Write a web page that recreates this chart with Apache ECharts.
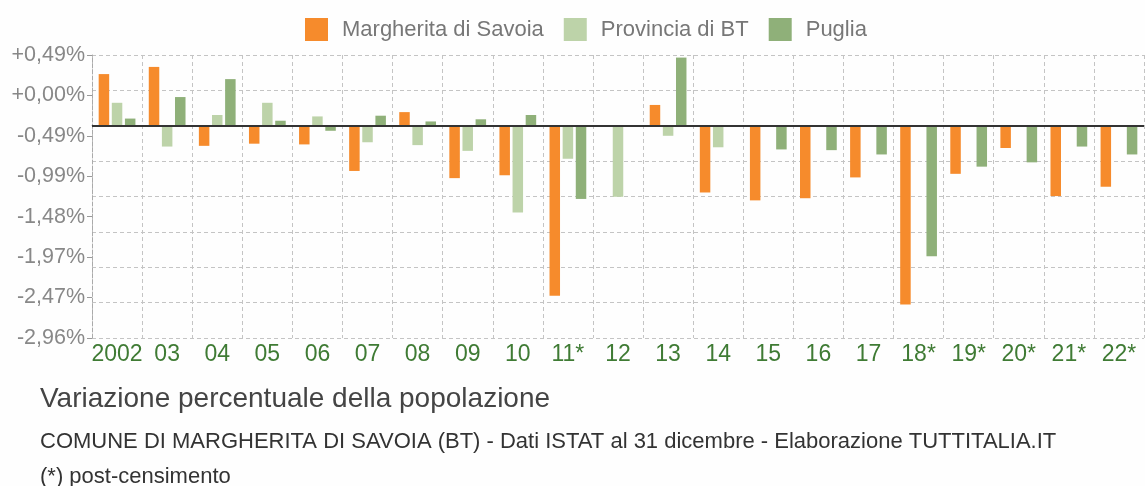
<!DOCTYPE html>
<html>
<head>
<meta charset="utf-8">
<script src="https://cdn.jsdelivr.net/npm/echarts@6/dist/echarts.min.js"></script>
<style>
html,body{margin:0;padding:0;background:#fefefe;}
#c{width:1145px;height:486px;}
</style>
</head>
<body>
<div id="c"></div>
<script>
const years = ['2002','03','04','05','06','07','08','09','10','11*','12','13','14','15','16','17','18*','19*','20*','21*','22*'];
const margherita = [0.72, 0.82, -0.28, -0.25, -0.26, -0.63, 0.19, -0.73, -0.69, -2.37, 0, 0.29, -0.93, -1.04, -1.01, -0.72, -2.49, -0.67, -0.31, -0.98, -0.85];
const provincia = [0.32, -0.29, 0.15, 0.32, 0.13, -0.23, -0.27, -0.35, -1.21, -0.46, -0.99, -0.14, -0.30, null, null, null, null, null, null, null, null];
const puglia = [0.10, 0.40, 0.65, 0.07, -0.07, 0.14, 0.06, 0.09, 0.15, -1.02, -0.01, 0.95, 0, -0.33, -0.34, -0.40, -1.82, -0.57, -0.51, -0.29, -0.40];
const yTickLabels = ['-2,96%','-2,47%','-1,97%','-1,48%','-0,99%','-0,49%','+0,00%','+0,49%'];
const seriesNames = ['Margherita di Savoia','Provincia di BT','Puglia'];
const colors = ['#f68b2c','#bdd3a9','#8fb079'];
const step = 0.493;

const FONT = "'Liberation Sans', Arial, sans-serif";
const chart = echarts.init(document.getElementById('c'), null, {renderer:'canvas'});
const barCommon = {type:'bar', barWidth:10.5, barGap:'25%', yAxisIndex:0, xAxisIndex:0};
chart.setOption({
  animation:false,
  backgroundColor:'#fefefe',
  color: colors,
  textStyle:{fontFamily:FONT},
  legend:{
    top:13, left:300, itemWidth:23, itemHeight:23, itemGap:20,
    icon:'rect',
    textStyle:{fontSize:22, color:'#777', fontFamily:FONT, padding:[0,0,0,9]},
    data: seriesNames
  },
  title:[
    {text:'Variazione percentuale della popolazione', left:35, top:380,
     textStyle:{fontSize:28, fontWeight:'normal', color:'#444', fontFamily:FONT}},
    {text:'COMUNE DI MARGHERITA DI SAVOIA (BT) - Dati ISTAT al 31 dicembre - Elaborazione TUTTITALIA.IT', left:35, top:426,
     textStyle:{fontSize:22, fontWeight:'normal', color:'#333', fontFamily:FONT}},
    {text:'(*) post-censimento', left:35, top:461,
     textStyle:{fontSize:22, fontWeight:'normal', color:'#333', fontFamily:FONT}}
  ],
  grid:{left:92, right:1, top:55, bottom:148, containLabel:false},
  xAxis:[{
    type:'category', data:years, boundaryGap:true,
    axisLine:{show:true, lineStyle:{color:'#aaa', type:'dashed', width:1}},
    axisTick:{show:false},
    axisLabel:{fontSize:23, color:'#3f7b34', margin:5, interval:0, fontFamily:FONT},
    splitLine:{show:true, interval:0, lineStyle:{color:'#c4c4c4', type:[4,3], width:1}}
  }],
  yAxis:[{
    type:'value', min:-6*step, max:2*step, interval:step,
    axisLabel:{show:false}, axisTick:{show:false}, axisLine:{show:false},
    splitLine:{show:true, lineStyle:{color:'#c4c4c4', type:[4,3], width:1}}
  },{
    type:'category', data:yTickLabels, boundaryGap:false, position:'left',
    axisLine:{show:true, lineStyle:{color:'#aaa', type:'dashed'}},
    axisTick:{show:true, length:5, lineStyle:{color:'#999'}},
    axisLabel:{fontSize:21.5, color:'#888', margin:7, interval:0, fontFamily:FONT},
    splitLine:{show:false}
  }],
  series:[
    Object.assign({}, barCommon, {name:seriesNames[0], data:margherita,
      markLine:{silent:true, symbol:'none', label:{show:false},
        lineStyle:{color:'#333', type:'solid', width:2}, data:[{yAxis:0}]}}),
    Object.assign({}, barCommon, {name:seriesNames[1], data:provincia}),
    Object.assign({}, barCommon, {name:seriesNames[2], data:puglia})
  ]
});
</script>
</body>
</html>
